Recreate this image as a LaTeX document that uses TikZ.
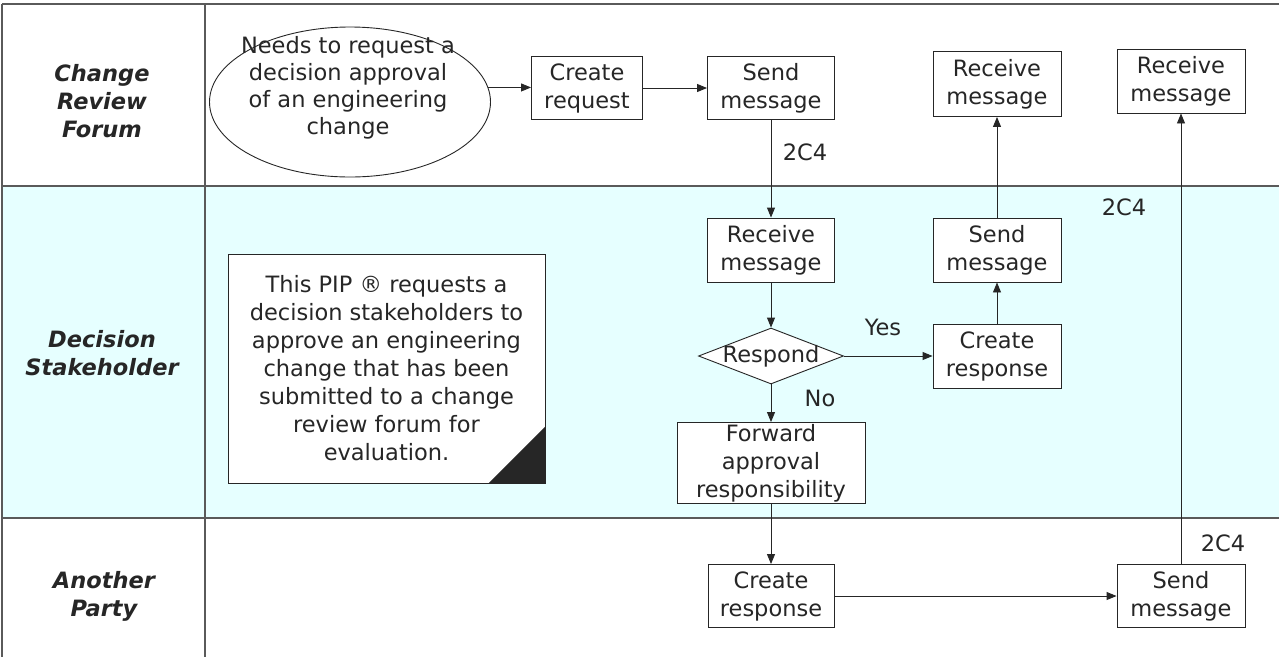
\documentclass[tikz,border=0pt]{standalone}
\usepackage{fontspec}
\setmainfont{DejaVu Sans}
\usetikzlibrary{shapes.geometric,arrows.meta}
\definecolor{lanefill}{HTML}{E6FFFF}
\definecolor{ink}{HTML}{262626}
\definecolor{laneline}{HTML}{5A5A5A}
\begin{document}
\begin{tikzpicture}[x=1pt,y=-1pt,
  every node/.style={text=ink,font=\fontsize{22.5}{28}\selectfont},
  stepbox/.style={draw=ink,fill=white,line width=0.9pt,inner sep=0pt,align=center},
  conn/.style={draw=ink,line width=0.9pt,-{Triangle[length=10pt,width=8pt]}},
  lanelbl/.style={font=\fontsize{22.5}{28}\selectfont\bfseries\itshape,align=center},
  lbl/.style={inner sep=0pt},
  laneborder/.style={draw=laneline,line width=1.4pt}]
\useasboundingbox (0,0) rectangle (1279,657);
% lanes
\fill[lanefill] (2,186) rectangle (1279,518);
\draw[laneborder] (2,4) -- (1279,4);
\draw[laneborder] (2,186) -- (1279,186);
\draw[laneborder] (2,518) -- (1279,518);
\draw[laneborder] (2,4) -- (2,657);
\draw[laneborder] (205,4) -- (205,657);
% lane labels
\node[lanelbl] (lane1) at (102,101) {Change\\Review\\Forum};
\node[lanelbl] (lane2) at (102,353.5) {Decision\\Stakeholder};
\node[lanelbl] (lane3) at (104,596) {Another\\Party};
% lane 1
\node[ellipse,draw=ink,line width=0.9pt,minimum width=281,minimum height=150,inner sep=0pt] (ell) at (350,102) {};
\node[align=center,font=\fontsize{22.5}{27}\selectfont] (ellT) at (348,88) {Needs to request a\\decision approval\\of an engineering\\change};
\node[stepbox,minimum width=111,minimum height=63] (cr) at (587,88) {Create\\request};
\node[stepbox,minimum width=127,minimum height=63] (sm1) at (771,88) {Send\\message};
\node[stepbox,minimum width=128,minimum height=65] (rm1) at (997,84) {Receive\\message};
\node[stepbox,minimum width=128,minimum height=64] (rm2) at (1181,81) {Receive\\message};
% lane 2
\node[stepbox,minimum width=317,minimum height=229] (note) at (386.5,368.5) {This PIP ® requests a\\decision stakeholders to\\approve an engineering\\change that has been\\submitted to a change\\review forum for\\evaluation.};
\fill[ink] (note.south east) -- ++(0,-57) -- ++(-57,57) -- cycle;
\node[stepbox,minimum width=127,minimum height=64] (rm3) at (771,250) {Receive\\message};
\node[diamond,draw=ink,fill=white,line width=0.9pt,minimum width=145,minimum height=56,inner sep=0pt,label={[lbl]center:Respond}] (resp) at (771,356) {};
\node[stepbox,minimum width=188,minimum height=81] (fwd) at (771,463) {Forward\\approval\\responsibility};
\node[stepbox,minimum width=128,minimum height=64] (sm2) at (997,250) {Send\\message};
\node[stepbox,minimum width=128,minimum height=64] (cresp2) at (997,356) {Create\\response};
% lane 3
\node[stepbox,minimum width=126,minimum height=63] (cresp3) at (771,596) {Create\\response};
\node[stepbox,minimum width=128,minimum height=63] (sm3) at (1181,596) {Send\\message};
% connectors
\draw[conn] (ell.6) -- (ell.6 -| cr.west);
\draw[conn] (cr) -- (sm1);
\draw[conn] (sm1) -- (rm3);
\draw[conn] (rm3) -- (resp);
\draw[conn] (resp) -- (cresp2);
\draw[conn] (resp) -- (fwd);
\draw[conn] (cresp2) -- (sm2);
\draw[conn] (sm2) -- (rm1);
\draw[conn] (fwd) -- (cresp3);
\draw[conn] (cresp3) -- (sm3);
\draw[conn] (sm3) -- (rm2);
% labels
\node[lbl] (c1) at (805,152) {2C4};
\node[lbl] (c2) at (1124,207) {2C4};
\node[lbl] (c3) at (1223,543) {2C4};
\node[lbl] (yes) at (883,327) {Yes};
\node[lbl] (no) at (820,398) {No};
\end{tikzpicture}
\end{document}
